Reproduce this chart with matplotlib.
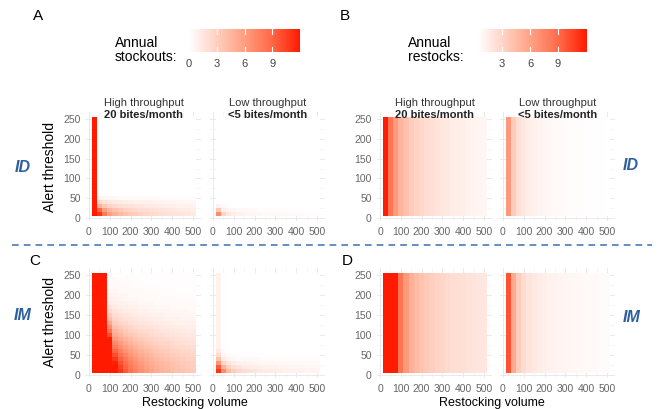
import numpy as np
import matplotlib
matplotlib.use("Agg")
import matplotlib.pyplot as plt
from matplotlib.colors import LinearSegmentedColormap, Normalize
from matplotlib.cm import ScalarMappable
from matplotlib.lines import Line2D

plt.rcParams["font.family"] = ["Liberation Sans", "DejaVu Sans"]

# -- data --
volume = [25, 50, 75, 100, 125, 150, 175, 200, 225, 250,
          275, 300, 325, 350, 375, 400, 425, 450, 475, 500]
threshold = [10, 20, 30, 40, 50, 60, 70, 80, 90, 100, 110, 120, 130,
             140, 150, 160, 170, 180, 190, 200, 210, 220, 230, 240, 250]

# annual stockouts, rows = alert threshold 10 (bottom) ... 250 (top)
stock_id_high = [
    [12, 11, 8, 6, 5, 4.3, 3.8, 3.4, 3.1, 2.8, 2.6, 2.4, 2.2, 2.0, 1.9, 1.8, 1.7, 1.6, 1.5, 1.4],
    [12, 9, 6, 4.5, 3.8, 3.3, 2.9, 2.6, 2.4, 2.2, 2.0, 1.9, 1.8, 1.7, 1.6, 1.5, 1.4, 1.3, 1.2, 1.1],
    [12, 5, 3.5, 2.8, 2.4, 2.1, 1.9, 1.7, 1.6, 1.5, 1.4, 1.3, 1.2, 1.1, 1.0, 1.0, 0.9, 0.9, 0.8, 0.8],
    [12, 2.5, 1.8, 1.5, 1.3, 1.2, 1.1, 1.0, 0.9, 0.9, 0.8, 0.8, 0.7, 0.7, 0.6, 0.6, 0.6, 0.5, 0.5, 0.5],
    [12, 0.8, 0.6, 0.5, 0.5, 0.4, 0.4, 0.4, 0.3, 0.3, 0.3, 0.3, 0.3, 0.2, 0.2, 0.2, 0.2, 0.2, 0.2, 0.2],
] + [[12] + [0] * 19 for _ in range(20)]  # thresholds 60-250: only first column

stock_id_low = [
    [7, 2.5, 1.5, 1.0, 0.8, 0.7, 0.6, 0.5, 0.5, 0.4, 0.4, 0.4, 0.3, 0.3, 0.3, 0.3, 0.3, 0.2, 0.2, 0.2],
    [3.5, 1.0, 0.6, 0.5, 0.4, 0.3, 0.3, 0.3, 0.2, 0.2, 0.2, 0.2, 0.2, 0.2, 0.1, 0.1, 0.1, 0.1, 0.1, 0.1],
    [0.8, 0.3, 0.2, 0.1, 0, 0, 0, 0, 0, 0, 0, 0, 0, 0, 0, 0, 0, 0, 0, 0],
] + [[0] * 20 for _ in range(22)]

stock_im_high = [
    [12, 12, 12, 12, 12, 11, 9.6, 8.5, 7.6, 6.8, 6.2, 5.7, 5.2, 4.8, 4.5, 4.2, 3.9, 3.7, 3.5, 3.3],
    [12, 12, 12, 12, 12, 10.5, 9.1, 8.1, 7.2, 6.5, 5.9, 5.4, 4.9, 4.6, 4.3, 4.0, 3.7, 3.5, 3.3, 3.1],
    [12, 12, 12, 12, 11.7, 9.9, 8.6, 7.7, 6.8, 6.1, 5.6, 5.1, 4.7, 4.3, 4.1, 3.8, 3.5, 3.3, 3.2, 3.0],
    [12, 12, 12, 12, 10.9, 9.2, 8.1, 7.1, 6.4, 5.7, 5.2, 4.8, 4.4, 4.0, 3.8, 3.5, 3.3, 3.1, 2.9, 2.8],
    [12, 12, 12, 12, 10.0, 8.5, 7.4, 6.5, 5.9, 5.2, 4.8, 4.4, 4.0, 3.7, 3.5, 3.2, 3.0, 2.8, 2.7, 2.5],
    [12, 12, 12, 12, 9.1, 7.7, 6.7, 6.0, 5.3, 4.8, 4.3, 4.0, 3.6, 3.4, 3.2, 2.9, 2.7, 2.6, 2.5, 2.3],
    [12, 12, 12, 12, 8.1, 6.8, 6.0, 5.3, 4.7, 4.2, 3.8, 3.5, 3.2, 3.0, 2.8, 2.6, 2.4, 2.3, 2.2, 2.0],
    [12, 12, 12, 12, 7.2, 6.1, 5.3, 4.7, 4.2, 3.7, 3.4, 3.1, 2.9, 2.6, 2.5, 2.3, 2.1, 2.0, 1.9, 1.8],
    [12, 12, 12, 12, 6.2, 5.3, 4.6, 4.1, 3.6, 3.3, 3.0, 2.7, 2.5, 2.3, 2.2, 2.0, 1.9, 1.8, 1.7, 1.6],
    [12, 12, 12, 10, 5.3, 4.5, 3.9, 3.5, 3.1, 2.8, 2.5, 2.3, 2.1, 2.0, 1.8, 1.7, 1.6, 1.5, 1.4, 1.4],
    [12, 12, 12, 8.5, 4.6, 3.9, 3.4, 3.0, 2.7, 2.4, 2.2, 2.0, 1.8, 1.7, 1.6, 1.5, 1.4, 1.3, 1.2, 1.2],
    [12, 12, 12, 7.0, 3.8, 3.2, 2.8, 2.5, 2.2, 2.0, 1.8, 1.7, 1.5, 1.4, 1.3, 1.2, 1.1, 1.1, 1.0, 1.0],
    [12, 12, 12, 5.5, 3.1, 2.6, 2.3, 2.0, 1.8, 1.6, 1.5, 1.4, 1.2, 1.2, 1.1, 1.0, 0.9, 0.9, 0.8, 0.8],
    [12, 12, 12, 4.2, 2.6, 2.2, 1.9, 1.7, 1.5, 1.4, 1.2, 1.1, 1.0, 1.0, 0.9, 0.8, 0.8, 0.7, 0.7, 0.7],
    [12, 12, 12, 3.2, 2.1, 1.8, 1.5, 1.4, 1.2, 1.1, 1.0, 0.9, 0.8, 0.8, 0.7, 0.7, 0.6, 0.6, 0.6, 0.5],
    [12, 12, 12, 2.4, 1.7, 1.4, 1.2, 1.1, 1.0, 0.9, 0.8, 0.7, 0.7, 0.6, 0.6, 0.5, 0.5, 0.5, 0.5, 0.4],
    [12, 12, 12, 1.8, 1.3, 1.1, 1.0, 0.9, 0.8, 0.7, 0.6, 0.6, 0.5, 0.5, 0.5, 0.4, 0.4, 0.4, 0.4, 0.3],
    [12, 12, 12, 1.3, 1.0, 0.9, 0.8, 0.7, 0.6, 0.5, 0.5, 0.5, 0.4, 0.4, 0.4, 0.3, 0.3, 0.3, 0.3, 0.3],
    [12, 12, 12, 1.0, 0.8, 0.7, 0.6, 0.5, 0.5, 0.4, 0.4, 0.3, 0.3, 0.3, 0.3, 0.3, 0.2, 0.2, 0.2, 0.2],
    [12, 12, 12, 0.8, 0.7, 0.6, 0.5, 0.4, 0.4, 0.3, 0.3, 0.3, 0.3, 0.2, 0.2, 0.2, 0.2, 0.2, 0.2, 0.2],
    [12, 12, 12, 0.6, 0.5, 0.4, 0.4, 0.3, 0.3, 0.3, 0.2, 0.2, 0.2, 0.2, 0.2, 0.2, 0.2, 0.1, 0.1, 0.1],
    [12, 12, 12, 0.4, 0.4, 0.3, 0.3, 0.3, 0.2, 0.2, 0.2, 0.2, 0.2, 0.1, 0.1, 0.1, 0.1, 0.1, 0.1, 0.1],
    [12, 12, 12, 0.3, 0.3, 0.2, 0.2, 0.2, 0.2, 0.1, 0.1, 0.1, 0.1, 0.1, 0.1, 0.1, 0.1, 0.1, 0.1, 0.1],
    [12, 12, 12, 0.2, 0.3, 0.2, 0.2, 0.2, 0.2, 0.1, 0.1, 0.1, 0.1, 0.1, 0.1, 0.1, 0.1, 0.1, 0.1, 0.1],
    [12, 12, 12, 0.15, 0.1, 0.1, 0.1, 0.1, 0.1, 0.1, 0.1, 0.1, 0.1, 0.1, 0.1, 0.1, 0.1, 0.1, 0.1, 0.1],
]

stock_im_low = [
    [11, 7, 4.2, 3.1, 2.5, 2.1, 1.8, 1.6, 1.4, 1.3, 1.2, 1.1, 1.0, 0.9, 0.9, 0.8, 0.8, 0.7, 0.7, 0.7],
    [9.5, 4.8, 2.8, 2.1, 1.7, 1.4, 1.2, 1.1, 1.0, 0.9, 0.8, 0.8, 0.7, 0.7, 0.6, 0.6, 0.6, 0.5, 0.5, 0.5],
    [6.5, 2.6, 1.5, 1.1, 0.9, 0.8, 0.7, 0.6, 0.5, 0.5, 0.5, 0.4, 0.4, 0.4, 0.4, 0.3, 0.3, 0.3, 0.3, 0.3],
    [3.8, 1.3, 0.7, 0.5, 0.4, 0.4, 0.3, 0.3, 0.3, 0.2, 0.2, 0.2, 0.2, 0.2, 0.2, 0.2, 0.2, 0.2, 0.2, 0.2],
    [2.2, 0.6, 0.3, 0.2, 0.2, 0.1, 0.1, 0.1, 0.1, 0.1, 0.1, 0.1, 0.1, 0.1, 0.1, 0.1, 0.1, 0.1, 0.1, 0.1],
    [1.4, 0.3, 0.1, 0, 0, 0, 0, 0, 0, 0, 0, 0, 0, 0, 0, 0, 0, 0, 0, 0],
] + [[0.9, 0.1] + [0] * 18 for _ in range(19)]

# annual restocks, same for every alert threshold
restock_id_high = [12, 8.5, 6.5, 5.0, 4.2, 3.6, 3.2, 2.8, 2.5, 2.3,
                   2.1, 1.9, 1.8, 1.6, 1.5, 1.4, 1.3, 1.2, 1.1, 1.0]
restock_id_low = [6.5, 3.5, 2.4, 1.8, 1.5, 1.3, 1.1, 1.0, 0.9, 0.8,
                  0.75, 0.7, 0.65, 0.6, 0.58, 0.55, 0.53, 0.5, 0.48, 0.46]
restock_im_high = [14, 14, 13, 8.5, 6.5, 5.2, 4.6, 4.1, 3.7, 3.4,
                   3.1, 2.9, 2.7, 2.5, 2.4, 2.3, 2.2, 2.1, 2.0, 1.9]
restock_im_low = [10, 5.5, 3.5, 2.6, 2.1, 1.8, 1.6, 1.4, 1.3, 1.2,
                  1.1, 1.0, 0.95, 0.9, 0.85, 0.8, 0.76, 0.72, 0.7, 0.68]

stock_ticks = [0, 3, 6, 9]
restock_ticks = [3, 6, 9]

# -- figure --
W, H = 657, 409
fig = plt.figure(figsize=(W / 100, H / 100), dpi=100)


def px_axes(left, top, right, bottom):
    return fig.add_axes([left / W, 1 - bottom / H, (right - left) / W, (bottom - top) / H])


def ftext(x, y, s, **kw):
    fig.text(x / W, 1 - y / H, s, **kw)


reds = LinearSegmentedColormap.from_list(
    "wr", ["#FFFFFF", "#FFCFBF", "#FF9E81", "#FF6846", "#FF1A00"])
stock_norm = Normalize(0, 12)
restock_norm = Normalize(0.43, 12.1)

vol = np.array(volume)
thr = np.array(threshold)
x_edges = np.append(vol - 12.5, vol[-1] + 12.5)
y_edges = np.append(thr - 5, thr[-1] + 5)

grey = "#666666"
panel_w = 114.4


def draw_panel(left, top, bottom, grid, norm, show_y):
    ax = px_axes(left, top, left + panel_w, bottom)
    ax.pcolormesh(x_edges, y_edges, np.array(grid, dtype=float), cmap=reds,
                  norm=norm, shading="flat")
    ax.set_xlim(-12.5, 537.5)
    ax.set_ylim(-7.5, 267.5)
    ax.set_xticks([0, 100, 200, 300, 400, 500])
    ax.set_xticks([50, 150, 250, 350, 450], minor=True)
    ax.set_yticks([0, 50, 100, 150, 200, 250])
    ax.set_yticks([25, 75, 125, 175, 225], minor=True)
    ax.set_axisbelow(True)
    ax.grid(True, which="major", color="#E6E6E6", lw=0.6)
    ax.grid(True, which="minor", color="#F0F0F0", lw=0.4)
    for s in ax.spines.values():
        s.set_visible(False)
    ax.tick_params(which="both", length=0, labelsize=7.5, colors=grey, pad=4)
    if not show_y:
        ax.set_yticklabels([])
    return ax


lefts = {"A": (86.4, 210.4), "B": (377.4, 500.4)}
top_row = (112.1, 221)
bot_row = (268, 378)
n_thr = len(threshold)

draw_panel(lefts["A"][0], *top_row, stock_id_high, stock_norm, True)
draw_panel(lefts["A"][1], *top_row, stock_id_low, stock_norm, False)
draw_panel(lefts["B"][0], *top_row, np.tile(restock_id_high, (n_thr, 1)), restock_norm, True)
draw_panel(lefts["B"][1], *top_row, np.tile(restock_id_low, (n_thr, 1)), restock_norm, False)
draw_panel(lefts["A"][0], *bot_row, stock_im_high, stock_norm, True)
draw_panel(lefts["A"][1], *bot_row, stock_im_low, stock_norm, False)
draw_panel(lefts["B"][0], *bot_row, np.tile(restock_im_high, (n_thr, 1)), restock_norm, True)
draw_panel(lefts["B"][1], *bot_row, np.tile(restock_im_low, (n_thr, 1)), restock_norm, False)

# strip titles
for left in lefts.values():
    c_hi = left[0] + panel_w / 2
    c_lo = left[1] + panel_w / 2
    ftext(c_hi, 103, "High throughput", ha="center", va="center", fontsize=8, color="#333333")
    ftext(c_hi, 115, "20 bites/month", ha="center", va="center", fontsize=8, fontweight="bold", color="#222222")
    ftext(c_lo, 103, "Low throughput", ha="center", va="center", fontsize=8, color="#333333")
    ftext(c_lo, 115, "<5 bites/month", ha="center", va="center", fontsize=8, fontweight="bold", color="#222222")

# axis titles
ftext(50, 167, "Alert threshold", rotation=90, ha="center", va="center", fontsize=10)
ftext(50, 322, "Alert threshold", rotation=90, ha="center", va="center", fontsize=10)
ftext(195, 403, "Restocking volume", ha="center", va="center", fontsize=9)
ftext(492, 403, "Restocking volume", ha="center", va="center", fontsize=9)

# model labels
blue = "#2E5F9E"
for x, y, s in [(23, 167, "ID"), (631, 166, "ID"), (23, 315, "IM"), (632, 317, "IM")]:
    ftext(x, y, s, ha="center", va="center", fontsize=11.5, fontweight="bold",
          fontstyle="italic", color=blue)

# panel letters
for x, y, s in [(33, 16, "A"), (340, 16, "B"), (29, 261, "C"), (342, 261, "D")]:
    ftext(x, y, s, ha="left", va="center", fontsize=11)

# dashed separator
fig.add_artist(Line2D([12 / W, 652 / W], [1 - 245 / H] * 2, ls=(0, (4.4, 3.3)),
                      color="#3D6DAF", lw=1.1))


# colour bars
def colourbar(left, right, norm, ticks, label, label_x):
    cax = px_axes(left, 29, right, 52)
    cb = fig.colorbar(ScalarMappable(norm=norm, cmap=reds), cax=cax,
                      orientation="horizontal", ticks=ticks)
    cb.outline.set_visible(False)
    cax.tick_params(length=0, labelsize=8, colors="#444444", pad=5)
    for t in ticks:
        cax.axvline(t, 0, 0.2, color="white", lw=0.8)
        cax.axvline(t, 0.8, 1, color="white", lw=0.8)
    ftext(label_x, 50, label, ha="left", va="center", fontsize=10, linespacing=1.0)


colourbar(189, 300, stock_norm, stock_ticks, "Annual\nstockouts:", 115)
colourbar(478, 587, restock_norm, restock_ticks, "Annual\nrestocks:", 408)

fig.savefig("out.png", dpi=100)
